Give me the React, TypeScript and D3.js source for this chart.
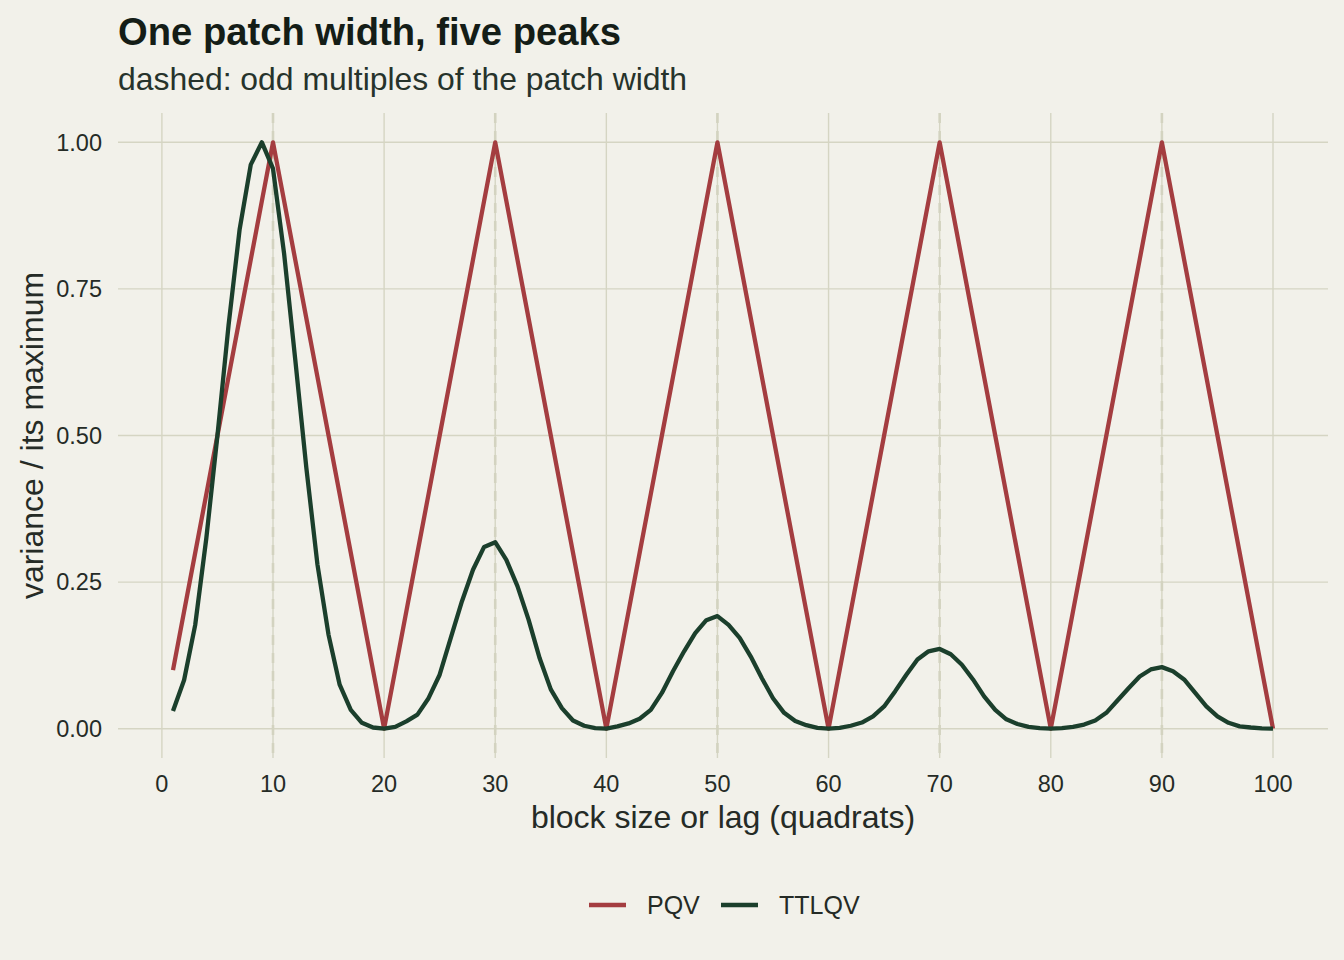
import React, { useEffect, useRef } from 'react';
import * as d3 from 'd3';

// block sizes 1..100
const blockSizes: number[] = d3.range(1, 101);

// PQV, normalised to its maximum
const pqvValues: number[] = [
  0.1, 0.2, 0.3, 0.4, 0.5, 0.6, 0.7, 0.8, 0.9, 1.0,
  0.9, 0.8, 0.7, 0.6, 0.5, 0.4, 0.3, 0.2, 0.1, 0.0,
  0.1, 0.2, 0.3, 0.4, 0.5, 0.6, 0.7, 0.8, 0.9, 1.0,
  0.9, 0.8, 0.7, 0.6, 0.5, 0.4, 0.3, 0.2, 0.1, 0.0,
  0.1, 0.2, 0.3, 0.4, 0.5, 0.6, 0.7, 0.8, 0.9, 1.0,
  0.9, 0.8, 0.7, 0.6, 0.5, 0.4, 0.3, 0.2, 0.1, 0.0,
  0.1, 0.2, 0.3, 0.4, 0.5, 0.6, 0.7, 0.8, 0.9, 1.0,
  0.9, 0.8, 0.7, 0.6, 0.5, 0.4, 0.3, 0.2, 0.1, 0.0,
  0.1, 0.2, 0.3, 0.4, 0.5, 0.6, 0.7, 0.8, 0.9, 1.0,
  0.9, 0.8, 0.7, 0.6, 0.5, 0.4, 0.3, 0.2, 0.1, 0.0,
];

// TTLQV, normalised to its maximum
const ttlqvValues: number[] = [
  0.030, 0.083, 0.177, 0.325, 0.500, 0.688, 0.852, 0.962, 1.000, 0.955,
  0.810, 0.630, 0.445, 0.280, 0.160, 0.075, 0.032, 0.010, 0.002, 0.000,
  0.003, 0.0125, 0.024, 0.052, 0.092, 0.155, 0.217, 0.271, 0.310, 0.318,
  0.288, 0.243, 0.186, 0.120, 0.067, 0.035, 0.014, 0.005, 0.001, 0.000,
  0.004, 0.009, 0.017, 0.032, 0.061, 0.098, 0.132, 0.163, 0.185, 0.192,
  0.177, 0.155, 0.123, 0.086, 0.052, 0.027, 0.013, 0.006, 0.0015, 0.000,
  0.0015, 0.005, 0.0105, 0.021, 0.038, 0.064, 0.092, 0.118, 0.132, 0.136,
  0.127, 0.109, 0.084, 0.055, 0.032, 0.016, 0.008, 0.003, 0.001, 0.000,
  0.001, 0.003, 0.007, 0.014, 0.027, 0.048, 0.069, 0.089, 0.101, 0.105,
  0.098, 0.084, 0.061, 0.038, 0.021, 0.010, 0.004, 0.002, 0.0005, 0.000,
];

const seriesNames = ['PQV', 'TTLQV'];
const seriesColors = ['#a43d40', '#1b3f2c'];
const xTicks = [0, 10, 20, 30, 40, 50, 60, 70, 80, 90, 100];
const yTicks = [0, 0.25, 0.5, 0.75, 1];
const patchMultiples = [10, 30, 50, 70, 90];

const App: React.FC = () => {
  const svgRef = useRef<SVGSVGElement>(null);

  useEffect(() => {
    if (!svgRef.current) return;
    d3.select(svgRef.current).selectAll('*').remove();

    const W = 1344;
    const H = 960;
    const font = '"Liberation Sans", Arial, Helvetica, sans-serif';
    const grid = '#d5d5c3';
    const textCol = '#252b26';

    const svg = d3.select(svgRef.current)
      .attr('width', W)
      .attr('height', H)
      .style('font-family', font);

    svg.append('rect').attr('width', W).attr('height', H).attr('fill', '#f2f1ea');

    const panel = { left: 118, right: 1328, top: 113, bottom: 758 };

    const x = d3.scaleLinear().domain([-3.95, 104.95]).range([panel.left, panel.right]);
    const y = d3.scaleLinear().domain([-0.05, 1.05]).range([panel.bottom, panel.top]);

    // grid
    svg.append('g')
      .selectAll('line')
      .data(yTicks)
      .enter().append('line')
      .attr('x1', panel.left).attr('x2', panel.right)
      .attr('y1', d => y(d)).attr('y2', d => y(d))
      .attr('stroke', grid).attr('stroke-width', 1.4);

    svg.append('g')
      .selectAll('line')
      .data(xTicks)
      .enter().append('line')
      .attr('x1', d => x(d)).attr('x2', d => x(d))
      .attr('y1', panel.top).attr('y2', panel.bottom)
      .attr('stroke', grid).attr('stroke-width', 1.4);

    // dashed reference lines
    svg.append('g')
      .selectAll('line')
      .data(patchMultiples)
      .enter().append('line')
      .attr('x1', d => x(d)).attr('x2', d => x(d))
      .attr('y1', panel.top).attr('y2', panel.bottom)
      .attr('stroke', '#d3d3c0').attr('stroke-width', 2.6)
      .attr('stroke-dasharray', '10 8');

    // tick labels
    svg.append('g')
      .selectAll('text')
      .data(yTicks)
      .enter().append('text')
      .attr('x', 102)
      .attr('y', d => y(d))
      .attr('dy', '0.35em')
      .attr('text-anchor', 'end')
      .attr('fill', textCol)
      .style('font-size', '23.5px')
      .text(d => d3.format('.2f')(d));

    svg.append('g')
      .selectAll('text')
      .data(xTicks)
      .enter().append('text')
      .attr('x', d => x(d))
      .attr('y', 792)
      .attr('text-anchor', 'middle')
      .attr('fill', textCol)
      .style('font-size', '23.5px')
      .text(d => String(d));

    // lines
    const line = d3.line<[number, number]>()
      .x(d => x(d[0]))
      .y(d => y(d[1]));

    const allSeries = [pqvValues, ttlqvValues];
    allSeries.forEach((vals, i) => {
      const pts: [number, number][] = blockSizes.map((k, j) => [k, vals[j]]);
      svg.append('path')
        .datum(pts)
        .attr('fill', 'none')
        .attr('stroke', seriesColors[i])
        .attr('stroke-width', 4.3)
        .attr('stroke-linejoin', 'round')
        .attr('d', line);
    });

    // axis titles
    svg.append('text')
      .attr('x', (panel.left + panel.right) / 2)
      .attr('y', 828)
      .attr('text-anchor', 'middle')
      .attr('fill', textCol)
      .style('font-size', '32px')
      .text('block size or lag (quadrats)');

    svg.append('text')
      .attr('transform', `translate(43,${(panel.top + panel.bottom) / 2}) rotate(-90)`)
      .attr('text-anchor', 'middle')
      .attr('fill', textCol)
      .style('font-size', '32px')
      .text('variance / its maximum');

    // title + subtitle
    svg.append('text')
      .attr('x', 118)
      .attr('y', 45)
      .attr('fill', '#141d17')
      .style('font-size', '38.2px')
      .style('font-weight', 'bold')
      .text('One patch width, five peaks');

    svg.append('text')
      .attr('x', 118)
      .attr('y', 90)
      .attr('fill', '#26332b')
      .style('font-size', '31.9px')
      .text('dashed: odd multiples of the patch width');

    // legend
    const legendX = [589, 721];
    seriesNames.forEach((name, i) => {
      const g = svg.append('g').attr('transform', `translate(${legendX[i]},905)`);
      g.append('line')
        .attr('x1', 0).attr('x2', 37)
        .attr('stroke', seriesColors[i])
        .attr('stroke-width', 4.3);
      g.append('text')
        .attr('x', 58)
        .attr('dy', '0.35em')
        .attr('fill', textCol)
        .style('font-size', '25px')
        .text(name);
    });
  }, []);

  return <svg ref={svgRef} style={{ display: 'block', position: 'absolute', left: 0, top: 0 }}></svg>;
};

export default App;
